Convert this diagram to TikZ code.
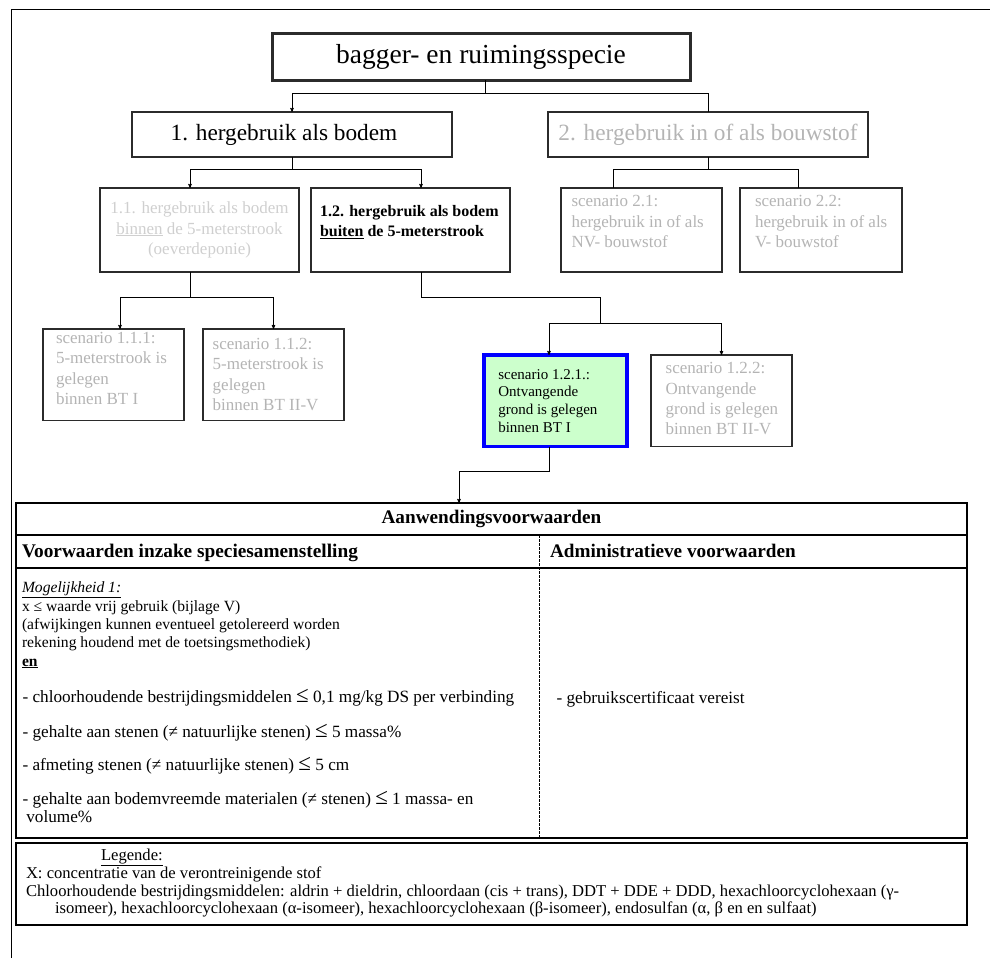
\documentclass[tikz,border=0pt]{standalone}
\usepackage{fontspec}
\setmainfont{Liberation Serif}
\usetikzlibrary{arrows,positioning}

\definecolor{greytext}{HTML}{B4B4B4}
\definecolor{paletext}{HTML}{CFCFCF}
\definecolor{boxline}{HTML}{2B2B2B}
\definecolor{greenfill}{HTML}{CCFFCC}

\begin{document}
\begin{tikzpicture}[x=1pt,y=-1pt,>=stealth',semithick,
  every node/.style={inner sep=0pt,outer sep=0pt}]
\tikzstyle{box}=[draw=boxline,line width=1.2pt,anchor=north west]
\tikzstyle{boxtext}=[align=left,anchor=north west]
\tikzstyle{tabline}=[line width=2pt]
\tikzstyle{tabtext}=[anchor=base west,font=\fontsize{15.6}{18.5}\selectfont]
\tikzstyle{itemtext}=[anchor=base west,font=\fontsize{17.2}{20}\selectfont]
\tikzstyle{legtext}=[anchor=base west,font=\fontsize{16.6}{17.5}\selectfont]
\newcommand{\bigle}{{\fontsize{23}{23}\selectfont ≤}}
\useasboundingbox (0,0) rectangle (990,958);

% frame
\draw[line width=0.8pt] (11,958) -- (11,9) -- (990,9);

% tree
\node[box,line width=3pt,minimum width=418,minimum height=46,font=\fontsize{27.5}{32}\selectfont] (top) at (272,34) {bagger- en ruimingsspecie};
\node[box,minimum width=320,minimum height=45,font=\fontsize{23.3}{27}\selectfont] (b1) at (132,112) {\hspace*{-16pt}1. hergebruik als bodem};
\node[box,minimum width=320,minimum height=45,text=greytext,font=\fontsize{23.3}{27}\selectfont] (b2) at (548,112) {2. hergebruik in of als bouwstof};

\node[box,minimum width=199,minimum height=84,text=paletext,align=center,font=\fontsize{17}{20.5}\selectfont] (b11) at (100,188) {1.1. hergebruik als bodem\\\underline{binnen} de 5-meterstrook\\(oeverdeponie)};
\node[box,minimum width=199,minimum height=84] (b12) at (311,188) {};
\node[boxtext,font=\bfseries\fontsize{16}{19.6}\selectfont,below right=17.5pt and 9pt of b12.north west] (t12) {1.2. hergebruik als bodem\\\underline{buiten} de 5-meterstrook};

\node[box,minimum width=161,minimum height=84] (b21) at (561,188) {};
\node[boxtext,text=greytext,font=\fontsize{17}{20.5}\selectfont,below right=7.7pt and 10.5pt of b21.north west] (t21) {scenario 2.1:\\hergebruik in of als\\NV- bouwstof};
\node[box,minimum width=162,minimum height=84] (b22) at (740,188) {};
\node[boxtext,text=greytext,font=\fontsize{17}{20.5}\selectfont,below right=7.7pt and 15pt of b22.north west] (t22) {scenario 2.2:\\hergebruik in of als\\V- bouwstof};

\node[box,minimum width=141,minimum height=91.5] (b111) at (43,329) {};
\node[boxtext,text=greytext,font=\fontsize{17}{20.3}\selectfont,below right=3.4pt and 13pt of b111.north west] (t111) {scenario 1.1.1:\\5-meterstrook is\\gelegen\\binnen BT I};
\node[box,minimum width=141,minimum height=91.5] (b112) at (203,329) {};
\node[boxtext,text=greytext,font=\fontsize{17}{20.5}\selectfont,below right=9pt and 9.7pt of b112.north west] (t112) {scenario 1.1.2:\\5-meterstrook is\\gelegen\\binnen BT II-V};

\node[box,draw=blue,line width=3.5pt,fill=greenfill,minimum width=143,minimum height=91.5] (b121) at (484,355) {};
\node[boxtext,font=\fontsize{15}{17.6}\selectfont,below right=14.3pt and 14.3pt of b121.north west] (t121) {scenario 1.2.1.:\\Ontvangende\\grond is gelegen\\binnen BT I};
\node[box,minimum width=141,minimum height=91.5] (b122) at (651,355) {};
\node[boxtext,text=greytext,font=\fontsize{17}{20.4}\selectfont,below right=7.4pt and 14.7pt of b122.north west] (t122) {scenario 1.2.2:\\Ontvangende\\grond is gelegen\\binnen BT II-V};

% connectors
\coordinate (j0) at (485,93);
\coordinate (j1) at (292,169);
\coordinate (j2) at (708,169);
\coordinate (j3) at (190,297);
\coordinate (j4) at (600,297);
\coordinate (j5) at (600,323);
\coordinate (j6) at (459,471);
\draw (top.south -| j0) -- (j0);
\draw[->] (j0) -| (b1.north);
\draw (j0) -| (b2.north);
\draw (b1.south) -- (j1);
\draw[->] (j1) -| ([xshift=-9.5pt]b11.north);
\draw[->] (j1) -| ([xshift=10.5pt]b12.north);
\draw (b2.south) -- (j2);
\draw (j2) -| ([xshift=-28.5pt]b21.north);
\draw (j2) -| ([xshift=-23pt]b22.north);
\draw ([xshift=-9.5pt]b11.south) -- (j3);
\draw[->] (j3) -| ([xshift=6.5pt]b111.north);
\draw[->] (j3) -| (b112.north);
\draw ([xshift=10.5pt]b12.south) |- (j4) -- (j5);
\draw[->] (j5) -| ([xshift=-6.5pt]b121.north);
\draw[->] (j5) -| (b122.north);

% table
\node[draw,line width=2.5pt,anchor=north west,minimum width=951,minimum height=335] (tab) at (16,503) {};
\draw[->] ([xshift=-6.5pt]b121.south) |- (j6) -- (j6 |- tab.north);
\draw[tabline] (16,535) -- (967,535);
\draw[tabline] (16,568) -- (967,568);
\draw[line width=0.8pt,dash pattern=on 2.5pt off 1.5pt] (539,535) -- (539,838);
\node[font=\bfseries\fontsize{19.2}{22}\selectfont] (title) at (491.5,519) {Aanwendingsvoorwaarden};
\node[anchor=base west,font=\bfseries\fontsize{19.3}{22}\selectfont] (headL) at (22,557) {Voorwaarden inzake speciesamenstelling};
\node[anchor=base west,font=\bfseries\fontsize{19.2}{22}\selectfont] (headR) at (550,557) {Administratieve voorwaarden};

\node[tabtext] (m1) at (22,592) {\underline{\textit{Mogelijkheid 1:}}};
\node[tabtext] (m2) at (22,611) {x ≤ waarde vrij gebruik (bijlage V)};
\node[tabtext] (m3) at (22,629) {(afwijkingen kunnen eventueel getolereerd worden};
\node[tabtext] (m4) at (22,647) {rekening houdend met de toetsingsmethodiek)};
\node[tabtext] (m5) at (22,666) {\underline{\textbf{en}}};
\node[itemtext] (c1) at (22.5,702) {- chloorhoudende bestrijdingsmiddelen \bigle{} 0,1 mg/kg DS per verbinding};
\node[itemtext] (c2) at (22.5,737) {- gehalte aan stenen (≠ natuurlijke stenen) \bigle{} 5 massa\%};
\node[itemtext] (c3) at (22.5,770) {- afmeting stenen (≠ natuurlijke stenen) \bigle{} 5 cm};
\node[itemtext] (c4) at (22.5,804) {- gehalte aan bodemvreemde materialen (≠ stenen) \bigle{} 1 massa- en};
\node[itemtext] (c5) at (26.3,822) {volume\%};
\node[itemtext] (a1) at (556.5,703) {- gebruikscertificaat vereist};

% legend
\node[draw,line width=1.2pt,anchor=north west,minimum width=951,minimum height=82] (legend) at (16,843) {};
\node[legtext] (l1) at (101,860) {\underline{Legende:}};
\node[legtext] (l2) at (26,878) {X: concentratie van de verontreinigende stof};
\node[legtext] (l3) at (26,896) {Chloorhoudende bestrijdingsmiddelen: aldrin + dieldrin, chloordaan (cis + trans), DDT + DDE + DDD, hexachloorcyclohexaan (γ-};
\node[legtext] (l4) at (55,913) {isomeer), hexachloorcyclohexaan (α-isomeer), hexachloorcyclohexaan (β-isomeer), endosulfan (α, β en en sulfaat)};
\end{tikzpicture}
\end{document}
